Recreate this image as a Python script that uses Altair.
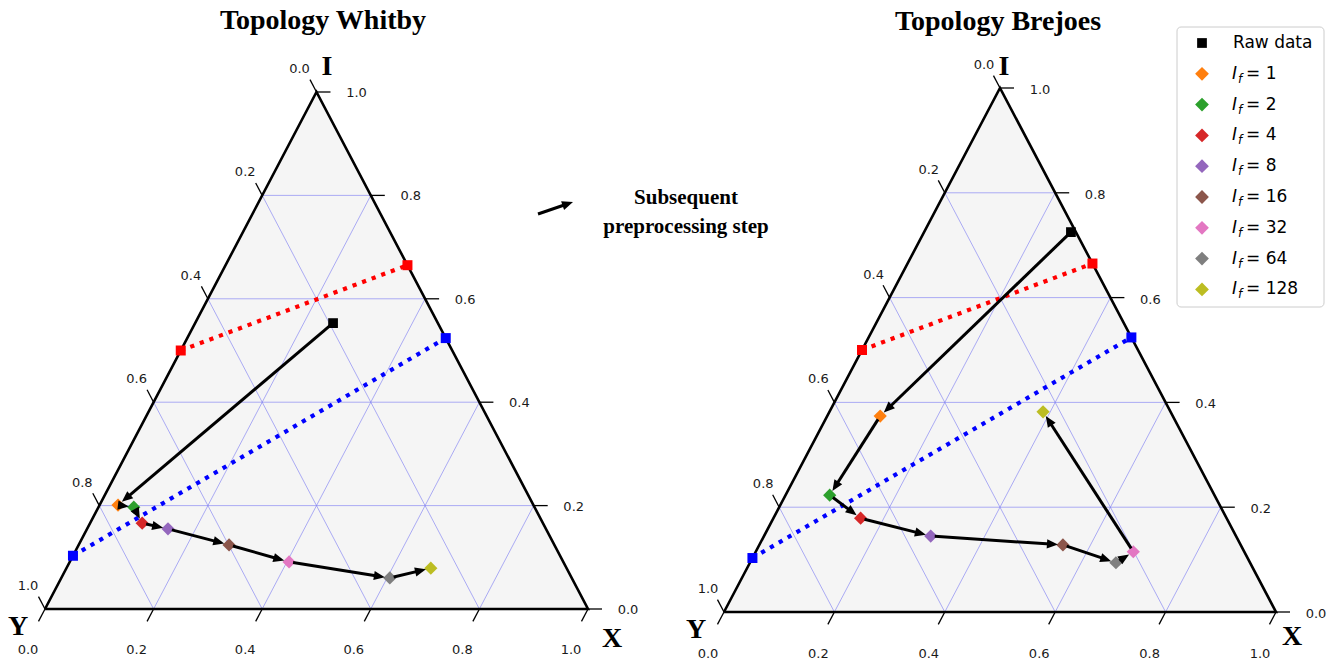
import math
import altair as alt
import pandas as pd

# ------------------------------------------------------------------ data
LEVEL_NAMES = ["Raw data", "1", "2", "4", "8", "16", "32", "64", "128"]
LEVEL_COLORS = ["#000000", "#ff7f0e", "#2ca02c", "#d62728", "#9467bd",
                "#8c564b", "#e377c2", "#7f7f7f", "#bcbd22"]

TICK_VALUES = [0.0, 0.2, 0.4, 0.6, 0.8, 1.0]
TICK_LABELS = ["0.0", "0.2", "0.4", "0.6", "0.8", "1.0"]
GRID_VALUES = [0.2, 0.4, 0.6, 0.8]

# ternary compositions (X, Y, I) for raw data and each I_f level
whitby_X = [0.254, 0.034, 0.065, 0.096, 0.149, 0.277, 0.404, 0.605, 0.671]
whitby_Y = [0.193, 0.765, 0.738, 0.738, 0.696, 0.599, 0.505, 0.335, 0.250]
whitby_I = [0.553, 0.201, 0.197, 0.166, 0.155, 0.124, 0.091, 0.060, 0.079]
whitby_path = [0, 1, 2, 3, 4, 5, 6, 7, 8]

brejoes_X = [0.266, 0.096, 0.080, 0.158, 0.302, 0.550, 0.684, 0.663, 0.387]
brejoes_Y = [0.009, 0.530, 0.697, 0.663, 0.553, 0.322, 0.201, 0.243, 0.231]
brejoes_I = [0.725, 0.374, 0.223, 0.179, 0.145, 0.128, 0.115, 0.094, 0.382]
brejoes_path = [0, 1, 2, 3, 4, 5, 7, 6, 8]

# dotted boundary lines (end points, X, Y, I)
red_X = [0.000, 0.335]
red_Y = [0.500, 0.000]
red_I = [0.500, 0.665]
blue_X = [0.000, 0.476]
blue_Y = [0.897, 0.000]
blue_I = [0.103, 0.524]

TITLES = ["Topology Whitby", "Topology Brejoes"]
VERTEX_NAMES = ["I", "Y", "X"]
NOTE_LINES = ["Subsequent", "preprocessing step"]

# ------------------------------------------------------------------ layout / style
H = 661
SANS = "DejaVu Sans"
SERIF = "Liberation Serif"
HEAD = "M0,0L0.42,1L-0.42,1Z"

PANELS = [
    dict(title=TITLES[0], X=whitby_X, Y=whitby_Y, I=whitby_I, path=whitby_path,
         x0=45.0, y0=609.0, sx=543.0, sy=517.0, left=0, width=700,
         title_px=(323, 21),
         vertex_px={"I": (327, 67), "Y": (18, 627), "X": (612, 639)},
         label_off={"R": (40, 1), "L": (-17, -23), "B": (-17, 41)}),
    dict(title=TITLES[1], X=brejoes_X, Y=brejoes_Y, I=brejoes_I, path=brejoes_path,
         x0=724.0, y0=612.0, sx=552.0, sy=524.0, left=700, width=638,
         title_px=(998, 22),
         vertex_px={"I": (1004, 67), "Y": (696, 630), "X": (1292, 637)},
         label_off={"R": (40, 2), "L": (-16, -23), "B": (-16, 42)}),
]


def tern_uv(X, Y, I):
    s = X + Y + I
    return (X + 0.5 * I) / s, I / s


def build_panel(p, is_right):
    x0, y0, sx, sy = p["x0"], p["y0"], p["sx"], p["sy"]
    xs = alt.Scale(domain=[(p["left"] - x0) / sx, (p["left"] + p["width"] - x0) / sx],
                   nice=False, zero=False)
    ys = alt.Scale(domain=[(y0 - H) / sy, y0 / sy], nice=False, zero=False)

    def enc(u="u", v="v"):
        return dict(x=alt.X(f"{u}:Q", scale=xs, axis=None),
                    y=alt.Y(f"{v}:Q", scale=ys, axis=None))

    def at_px(px, py):
        return (px - x0) / sx, (y0 - py) / sy

    def shift(u, v, dxp, dyp):
        return u + dxp / sx, v - dyp / sy

    layers = []

    # triangle fill
    fill = pd.DataFrame({"u": [0.0, 0.5, 1.0], "v": [0.0, 1.0, 0.0], "v0": [0.0] * 3})
    layers.append(alt.Chart(fill).mark_area(color="#f5f5f5").encode(
        **enc(), y2=alt.Y2("v0:Q")))

    # grid
    rows = []
    k = 0
    for g in GRID_VALUES:
        for a, b in [((0, 1 - g, g), (1 - g, 0, g)),
                     ((g, 1 - g, 0), (g, 0, 1 - g)),
                     ((1 - g, g, 0), (0, g, 1 - g))]:
            for o, pt in enumerate((a, b)):
                u, v = tern_uv(*pt)
                rows.append(dict(seg=k, ord=o, u=u, v=v))
            k += 1
    layers.append(alt.Chart(pd.DataFrame(rows)).mark_line(
        color="#7f7ff2", strokeWidth=0.8, opacity=0.8).encode(
        **enc(), detail="seg:N", order="ord:Q"))

    # triangle edges
    edge_pts = [(0, 1, 0), (1, 0, 0), (0, 0, 1), (0, 1, 0)]
    erows = []
    for o, pt in enumerate(edge_pts):
        u, v = tern_uv(*pt)
        erows.append(dict(ord=o, u=u, v=v))
    layers.append(alt.Chart(pd.DataFrame(erows)).mark_line(
        color="black", strokeWidth=2.6).encode(**enc(), order="ord:Q"))

    # ticks and tick labels
    dL = (-0.5 * sx, -sy)
    nL = math.hypot(*dL)
    dL = (dL[0] / nL, dL[1] / nL)
    dB = (-0.5 * sx, sy)
    nB = math.hypot(*dB)
    dB = (dB[0] / nB, dB[1] / nB)
    TL = 14
    trows, lrows = [], []
    for t, lab in zip(TICK_VALUES, TICK_LABELS):
        for axis, pt, d in [("R", (1 - t, 0, t), (1.0, 0.0)),
                            ("L", (0, t, 1 - t), dL),
                            ("B", (t, 1 - t, 0), dB)]:
            u, v = tern_uv(*pt)
            u2, v2 = shift(u, v, d[0] * TL, d[1] * TL)
            trows.append(dict(u=u, v=v, u2=u2, v2=v2))
            ox, oy = p["label_off"][axis]
            lu, lv = shift(u, v, ox, oy)
            lrows.append(dict(u=lu, v=lv, text=lab))
    layers.append(alt.Chart(pd.DataFrame(trows)).mark_rule(
        color="black", strokeWidth=1.3).encode(
        **enc(), x2=alt.X2("u2:Q"), y2=alt.Y2("v2:Q")))
    layers.append(alt.Chart(pd.DataFrame(lrows)).mark_text(
        font=SANS, fontSize=13, color="#1a1a1a", align="center", baseline="middle").encode(
        **enc(), text="text:N"))

    # dotted boundary lines
    for Xs, Ys, Is, col in [(red_X, red_Y, red_I, "#ff0000"),
                            (blue_X, blue_Y, blue_I, "#0000ff")]:
        brow = []
        for o in range(len(Xs)):
            u, v = tern_uv(Xs[o], Ys[o], Is[o])
            brow.append(dict(ord=o, u=u, v=v))
        bdf = pd.DataFrame(brow)
        layers.append(alt.Chart(bdf).mark_line(
            color=col, strokeWidth=4.2, strokeDash=[4.2, 6], strokeCap="butt").encode(
            **enc(), order="ord:Q"))
        layers.append(alt.Chart(bdf).mark_point(
            shape="square", filled=True, color=col, size=100, opacity=1).encode(**enc()))

    # data points
    prow = []
    for i, name in enumerate(LEVEL_NAMES):
        u, v = tern_uv(p["X"][i], p["Y"][i], p["I"][i])
        prow.append(dict(name=name, u=u, v=v))
    pdf = pd.DataFrame(prow)
    cscale = alt.Scale(domain=LEVEL_NAMES[1:], range=LEVEL_COLORS[1:])
    layers.append(alt.Chart(pdf[pdf.name != "Raw data"]).mark_point(
        shape="diamond", filled=True, size=175, opacity=1).encode(
        **enc(), color=alt.Color("name:N", scale=cscale, legend=None)))
    layers.append(alt.Chart(pdf[pdf.name == "Raw data"]).mark_point(
        shape="square", filled=True, size=95, opacity=1, color="black").encode(**enc()))

    # arrows between consecutive steps
    SA, SB, HL = 4.0, 5.0, 11.0
    arows, hrows = [], []
    path = p["path"]
    for a, b in zip(path[:-1], path[1:]):
        Pu, Pv = prow[a]["u"], prow[a]["v"]
        Qu, Qv = prow[b]["u"], prow[b]["v"]
        dxp = (Qu - Pu) * sx
        dyp = -(Qv - Pv) * sy
        L = math.hypot(dxp, dyp)
        ex, ey = dxp / L, dyp / L
        su, sv = shift(Pu, Pv, ex * SA, ey * SA)
        tu, tv = shift(Qu, Qv, -ex * SB, -ey * SB)
        eu, ev = shift(tu, tv, -ex * HL * 0.7, -ey * HL * 0.7)
        arows.append(dict(u=su, v=sv, u2=eu, v2=ev))
        hrows.append(dict(u=tu, v=tv, ang=math.degrees(math.atan2(ex, -ey)) % 360))

    # annotation arrow between panels (left only)
    if not is_right:
        su, sv = at_px(538, 214)
        tu, tv = at_px(573, 202)
        dxp, dyp = (tu - su) * sx, -(tv - sv) * sy
        L = math.hypot(dxp, dyp)
        ex, ey = dxp / L, dyp / L
        eu, ev = shift(tu, tv, -ex * HL * 0.7, -ey * HL * 0.7)
        arows.append(dict(u=su, v=sv, u2=eu, v2=ev))
        hrows.append(dict(u=tu, v=tv, ang=math.degrees(math.atan2(ex, -ey)) % 360))

    layers.append(alt.Chart(pd.DataFrame(arows)).mark_rule(
        color="black", strokeWidth=3).encode(
        **enc(), x2=alt.X2("u2:Q"), y2=alt.Y2("v2:Q")))
    layers.append(alt.Chart(pd.DataFrame(hrows)).mark_point(
        shape=HEAD, size=(2 * HL) ** 2, filled=True, color="black", opacity=1,
        strokeWidth=0).encode(**enc(), angle=alt.Angle("ang:Q", scale=None)))

    # vertex labels
    vrows = []
    for nm in VERTEX_NAMES:
        u, v = at_px(*p["vertex_px"][nm])
        vrows.append(dict(u=u, v=v, text=nm))
    layers.append(alt.Chart(pd.DataFrame(vrows)).mark_text(
        font=SERIF, fontSize=28, fontWeight="bold", color="black",
        align="center", baseline="middle").encode(**enc(), text="text:N"))

    # title
    tu, tv = at_px(*p["title_px"])
    layers.append(alt.Chart(pd.DataFrame([dict(u=tu, v=tv, text=p["title"])])).mark_text(
        font=SERIF, fontSize=28, fontWeight="bold", color="black",
        align="center", baseline="middle").encode(**enc(), text="text:N"))

    if not is_right:
        nrows = []
        for i, line in enumerate(NOTE_LINES):
            u, v = at_px(686, 198 + 29 * i)
            nrows.append(dict(u=u, v=v, text=line))
        layers.append(alt.Chart(pd.DataFrame(nrows)).mark_text(
            font=SERIF, fontSize=21, fontWeight="bold", color="black",
            align="center", baseline="middle").encode(**enc(), text="text:N"))
    else:
        # legend
        bu1, bv1 = at_px(1177, 27)
        bu2, bv2 = at_px(1324, 307)
        layers.append(alt.Chart(pd.DataFrame([dict(u=bu1, v=bv1, u2=bu2, v2=bv2)])).mark_rect(
            fill="white", stroke="#cccccc", strokeWidth=1, cornerRadius=4).encode(
            **enc(), x2=alt.X2("u2:Q"), y2=alt.Y2("v2:Q")))
        lrows = []
        for i, name in enumerate(LEVEL_NAMES):
            mu, mv = at_px(1202, 43 + 30.8 * i)
            tu, _ = at_px(1233, 0)
            iu, _ = at_px(1232, 0)
            fu, fv = at_px(1238, 43 + 30.8 * i + 5)
            eu, _ = at_px(1246, 0)
            lrows.append(dict(name=name, mu=mu, v=mv, tu=tu, iu=iu, fu=fu, fv=fv, eu=eu,
                              eq="= " + name))
        ldf = pd.DataFrame(lrows)
        raw = ldf[ldf.name == "Raw data"]
        lev = ldf[ldf.name != "Raw data"]
        layers.append(alt.Chart(raw).mark_point(
            shape="square", filled=True, size=95, color="black", opacity=1).encode(
            **enc("mu", "v")))
        layers.append(alt.Chart(lev).mark_point(
            shape="diamond", filled=True, size=190, opacity=1).encode(
            **enc("mu", "v"), color=alt.Color("name:N", scale=cscale, legend=None)))
        layers.append(alt.Chart(raw).mark_text(
            font=SANS, fontSize=17, color="black", align="left", baseline="middle").encode(
            **enc("tu", "v"), text="name:N"))
        layers.append(alt.Chart(lev).mark_text(
            text="I", font=SANS, fontSize=17, fontStyle="italic", color="black",
            align="left", baseline="middle").encode(**enc("iu", "v")))
        layers.append(alt.Chart(lev).mark_text(
            text="f", font=SANS, fontSize=12, fontStyle="italic", color="black",
            align="left", baseline="middle").encode(**enc("fu", "fv")))
        layers.append(alt.Chart(lev).mark_text(
            font=SANS, fontSize=17, color="black", align="left", baseline="middle").encode(
            **enc("eu", "v"), text="eq:N"))

    return alt.layer(*layers).properties(width=p["width"], height=H)


left = build_panel(PANELS[0], False)
right = build_panel(PANELS[1], True)

chart = alt.hconcat(left, right, spacing=0, bounds="flush").properties(
    padding=0, background="white"
).configure_view(stroke=None)

chart.save("out.html", embed_options={"renderer": "svg", "actions": False})
